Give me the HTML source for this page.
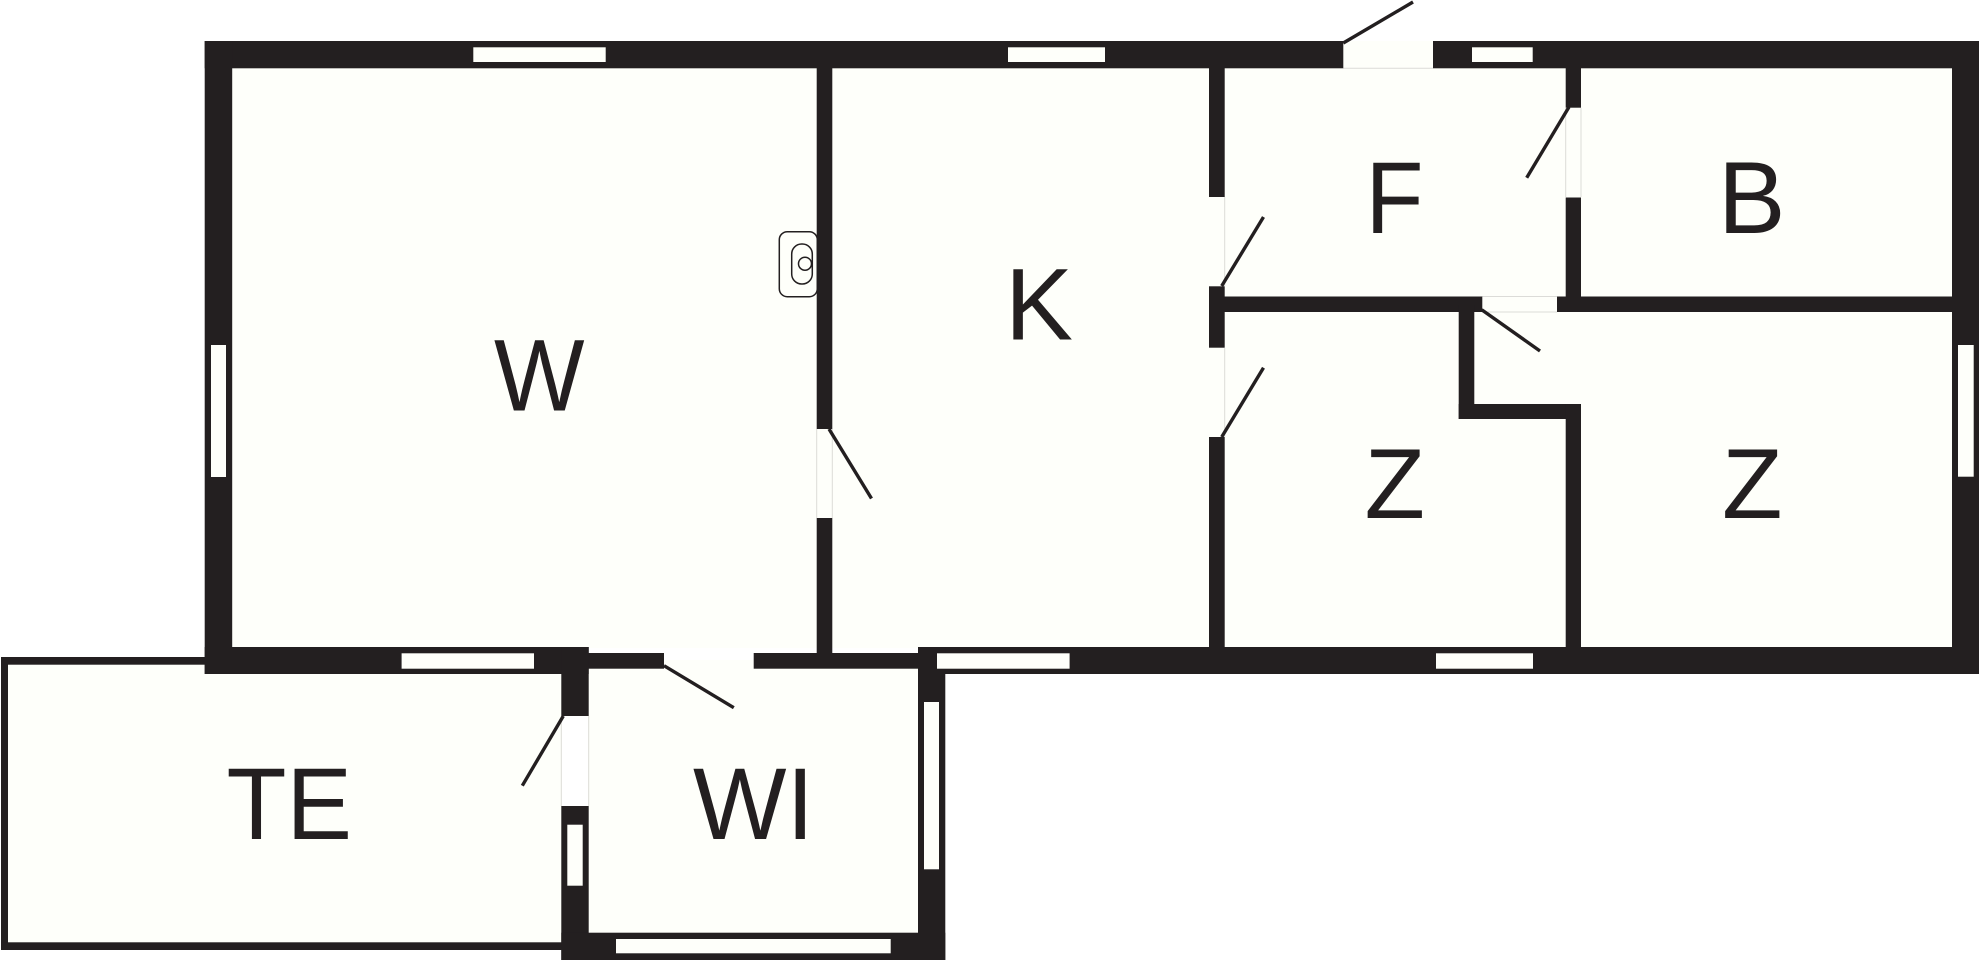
<!DOCTYPE html>
<html lang="en">
<head>
<meta charset="utf-8">
<title>Floor plan</title>
<style>
html,body{margin:0;padding:0;background:#fff;width:1980px;height:960px;overflow:hidden}
svg{display:block}
text{font-family:"Liberation Sans",Arial,sans-serif;font-size:102.5px;fill:#231f20}
</style>
</head>
<body>
<svg xmlns="http://www.w3.org/2000/svg" width="1980" height="960" viewBox="0 0 1980 960">
<!-- floors -->
<g fill="#fefffa">
<rect x="232" y="68" width="1720" height="580"/>
<rect x="8" y="664" width="554" height="279"/>
<rect x="588" y="660" width="331" height="273"/>
<rect x="1343.3" y="41" width="89.7" height="28"/>
</g>
<!-- gap hairlines -->
<g fill="none" stroke="#dcdcd8" stroke-width="1">
<path d="M1343 68.3H1433M1224.7 197V286M1224.7 348V437M1565.7 108V197M1581 108V197M1482 296.5H1557M1482 312H1557M816.7 429V518M832.3 429V518M561.3 716V806M588.7 716V806"/>
</g>
<!-- walls -->
<g fill="#231f20">
<rect x="204.7" y="41" width="1138.6" height="27.3"/>
<rect x="1433" y="41" width="546" height="27.3"/>
<rect x="204.7" y="41" width="27.5" height="633"/>
<rect x="1952" y="41" width="27" height="633"/>
<rect x="204.7" y="647" width="384" height="27"/>
<rect x="918" y="647" width="1061" height="27"/>
<rect x="588" y="653" width="76" height="15.7"/>
<rect x="753.7" y="653" width="170" height="15.7"/>
<rect x="816.7" y="68" width="15.6" height="361"/>
<rect x="816.7" y="518" width="15.6" height="136"/>
<rect x="1209" y="68" width="15.7" height="129"/>
<rect x="1209" y="286.3" width="15.7" height="61.4"/>
<rect x="1209" y="437" width="15.7" height="212"/>
<rect x="1224" y="296.5" width="258.3" height="15.5"/>
<rect x="1557" y="296.5" width="396" height="15.5"/>
<rect x="1565.7" y="68" width="15.3" height="39.7"/>
<rect x="1565.7" y="197.5" width="15.3" height="100"/>
<rect x="1458.7" y="305" width="15.6" height="114"/>
<rect x="1458.7" y="404" width="122.3" height="15"/>
<rect x="1565.7" y="404" width="15.3" height="245"/>
<rect x="561.3" y="647" width="27.4" height="69"/>
<rect x="561.3" y="806" width="27.4" height="154"/>
<rect x="561.3" y="932.7" width="384" height="27.3"/>
<rect x="918" y="647" width="27.3" height="313"/>
<!-- terrace frame -->
<rect x="1" y="657" width="204" height="7.7"/>
<rect x="1" y="657" width="7" height="293"/>
<rect x="1" y="942.3" width="561" height="7.7"/>
</g>
<!-- windows -->
<g fill="#fefffa">
<rect x="473.3" y="47.3" width="132.4" height="14.7"/>
<rect x="1008" y="47.3" width="97" height="14.7"/>
<rect x="1472" y="47.3" width="60.7" height="14.7"/>
<rect x="211" y="345" width="15" height="132"/>
<rect x="1958" y="345" width="15.7" height="131.7"/>
<rect x="401.6" y="653.3" width="132.4" height="15.4"/>
<rect x="937" y="653.3" width="132.6" height="15.4"/>
<rect x="1436" y="653.3" width="97" height="15.4"/>
<rect x="567.3" y="824.7" width="15.4" height="61"/>
<rect x="924" y="702" width="15" height="167.3"/>
<rect x="616" y="939" width="274.7" height="14.3"/>
</g>
<!-- door leaves -->
<g stroke="#231f20" stroke-width="3.4" fill="none">
<path d="M1343.3 43L1413 2"/>
<path d="M1569 107L1526.7 177.7"/>
<path d="M1221.7 286L1263.5 217"/>
<path d="M1221.7 437L1263.5 367.7"/>
<path d="M1481.7 309.7L1540 351"/>
<path d="M829 429L871.5 498.5"/>
<path d="M664 665.7L733.8 707.7"/>
<path d="M563.3 716L522.3 785.7"/>
</g>
<!-- sink -->
<g fill="none" stroke="#231f20" stroke-width="1.5">
<rect x="779.3" y="231.7" width="38" height="65" rx="8" ry="8"/>
<rect x="791.7" y="244" width="20.6" height="40" rx="10" ry="10"/>
<circle cx="805" cy="263.7" r="6.5"/>
</g>
<!-- labels -->
<text x="494" y="410.5" textLength="90.5" lengthAdjust="spacingAndGlyphs">W</text>
<text x="1005" y="339.7" textLength="68" lengthAdjust="spacingAndGlyphs">K</text>
<text x="1365.5" y="233" textLength="58" lengthAdjust="spacingAndGlyphs">F</text>
<text x="1718" y="233" textLength="67.5" lengthAdjust="spacingAndGlyphs">B</text>
<text x="1364.5" y="518" style="font-size:99px">Z</text>
<text x="1722" y="518" style="font-size:99px">Z</text>
<text x="226.5" y="839" textLength="125.5" lengthAdjust="spacingAndGlyphs">TE</text>
<text x="693" y="839" textLength="121" lengthAdjust="spacingAndGlyphs">WI</text>
</svg>
</body>
</html>
